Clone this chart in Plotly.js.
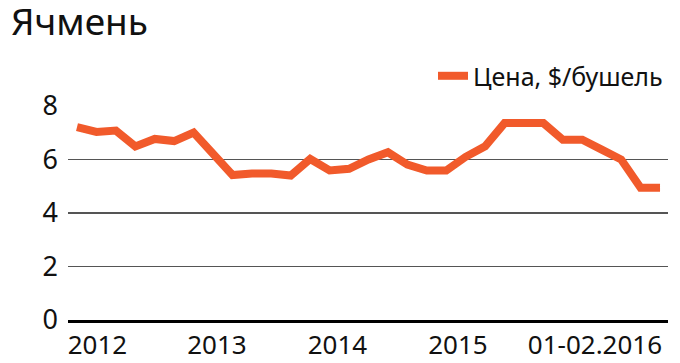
<!DOCTYPE html>
<html>
<head>
<meta charset="utf-8">
<script src="https://cdn.plot.ly/plotly-3.0.1.min.js"></script>
<style>html,body{margin:0;padding:0;background:#fff;}#chart{width:680px;height:363px;}</style>
</head>
<body>
<div id="chart"></div>
<script>
// Bimonthly barley price, $/bushel, 2012 – Feb 2016 (point index along x)
const pointIndex = [0,1,2,3,4,5,6,7,8,9,10,11,12,13,14,15,16,17,18,19,20,21,22,23,24,25,26,27,28,29,30];
const price = [7.21,7.03,7.08,6.49,6.77,6.69,7.01,6.2,5.42,5.48,5.48,5.4,6.02,5.59,5.65,6.0,6.27,5.81,5.59,5.59,6.1,6.49,7.36,7.36,7.36,6.74,6.74,6.37,6.0,4.94,4.94];
const xTickPos = [1.05,7.2,13.4,19.6,26.65];
const xTickLabels = ['2012','2013','2014','2015','01-02.2016'];
const yTicks = [0,2,4,6,8];
const seriesName = 'Цена, $/бушель';
const chartTitle = 'Ячмень';

const yTickFont = {family: '"Noto Sans", sans-serif', size: 27, color: '#111'};
const xTickFont = {family: '"Noto Sans", sans-serif', size: 26, color: '#111'};

const data = [{
  x: pointIndex, y: price, type: 'scatter', mode: 'lines', name: seriesName,
  line: {color: '#f15a2b', width: 8, shape: 'linear'},
  hoverinfo: 'none'
}];

const layout = {
  width: 680, height: 363,
  margin: {l: 68, r: 12, t: 106, b: 43},
  paper_bgcolor: '#fff', plot_bgcolor: '#fff',
  font: {family: '"Noto Sans", sans-serif', color: '#111'},
  title: {text: chartTitle, font: {family: '"Noto Sans", sans-serif', size: 37, color: '#111'},
          x: 0.016, xanchor: 'left', xref: 'container', y: 1.0, yanchor: 'top', yref: 'container', pad: {t: 9}},
  showlegend: true,
  legend: {x: 1, xanchor: 'right', y: 1.14, yanchor: 'middle', yref: 'paper', orientation: 'h',
           font: {family: '"Noto Sans", sans-serif', size: 25, color: '#111'}, bgcolor: 'rgba(0,0,0,0)'},
  xaxis: {
    range: [-0.463, 30.41], tickmode: 'array', tickvals: xTickPos, ticktext: xTickLabels, tickangle: 0,
    showgrid: false, zeroline: false, showline: true, linecolor: '#000', linewidth: 3,
    ticks: '', ticklen: 0, tickfont: xTickFont, ticklabelstandoff: 0, fixedrange: true
  },
  yaxis: {
    range: [0, 8], tickmode: 'array', tickvals: yTicks, showgrid: true, gridcolor: '#555', gridwidth: 1.4,
    zeroline: false, showline: false, ticks: '', ticklen: 0, tickfont: yTickFont, ticklabelstandoff: 9, fixedrange: true
  }
};

Plotly.newPlot('chart', data, layout, {displayModeBar: false, staticPlot: true});
</script>
</body>
</html>
